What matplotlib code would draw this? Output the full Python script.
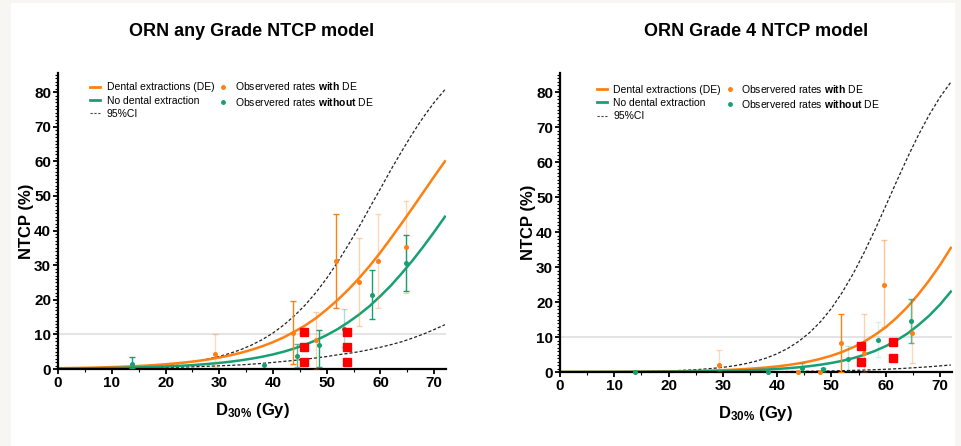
import numpy as np
import matplotlib
matplotlib.use("Agg")
import matplotlib.pyplot as plt
from matplotlib.ticker import MultipleLocator
from matplotlib.lines import Line2D
from matplotlib.patches import Rectangle

plt.rcParams['font.family'] = ['Liberation Sans', 'DejaVu Sans']
plt.rcParams['mathtext.fontset'] = 'custom'
plt.rcParams['mathtext.rm'] = 'Liberation Sans'
plt.rcParams['mathtext.it'] = 'Liberation Sans:italic'
plt.rcParams['mathtext.bf'] = 'Liberation Sans:bold'

ORANGE = '#ff8012'
GREEN = '#17a074'

# model curves, read every 2 Gy
dose = list(range(0, 73, 2))

any_de = [0.23, 0.28, 0.33, 0.39, 0.47, 0.56, 0.67, 0.80, 0.96, 1.15, 1.37,
          1.64, 1.96, 2.33, 2.78, 3.31, 3.94, 4.68, 5.55, 6.57, 7.76, 9.15,
          10.8, 12.6, 14.7, 17.2, 19.9, 22.9, 26.2, 29.8, 33.7, 37.9, 42.2,
          46.6, 51.1, 55.6, 60.0]
any_node = [0.12, 0.14, 0.17, 0.21, 0.25, 0.30, 0.35, 0.42, 0.51, 0.61, 0.72,
            0.87, 1.03, 1.24, 1.48, 1.76, 2.10, 2.51, 2.99, 3.55, 4.22, 5.01,
            5.95, 7.04, 8.31, 9.79, 11.5, 13.5, 15.7, 18.2, 21.1, 24.2, 27.7,
            31.4, 35.4, 39.6, 44.0]
any_ci_hi = [0.13, 0.16, 0.21, 0.26, 0.32, 0.40, 0.50, 0.63, 0.78, 0.98, 1.22,
             1.52, 1.90, 2.36, 2.94, 3.65, 4.53, 5.60, 6.91, 8.49, 10.4, 12.7,
             15.4, 18.5, 22.1, 26.2, 30.8, 35.8, 41.0, 46.6, 52.1, 57.7, 63.0,
             68.1, 72.8, 77.0, 80.7]
any_ci_lo = [0.09, 0.10, 0.12, 0.14, 0.17, 0.20, 0.24, 0.28, 0.33, 0.39, 0.45,
             0.52, 0.60, 0.70, 0.80, 0.92, 1.05, 1.20, 1.40, 1.63, 1.90, 2.20,
             2.50, 2.83, 3.20, 3.60, 4.10, 4.50, 5.00, 5.60, 6.30, 7.05, 7.90,
             8.95, 10.1, 11.4, 12.8]

g4_de = [0.02, 0.025, 0.03, 0.04, 0.05, 0.06, 0.075, 0.09, 0.12, 0.15, 0.18,
         0.22, 0.28, 0.35, 0.43, 0.54, 0.67, 0.84, 1.04, 1.29, 1.60, 1.99,
         2.47, 3.05, 3.78, 4.67, 5.75, 7.06, 8.65, 10.6, 12.8, 15.5, 18.6,
         22.2, 26.2, 30.6, 35.5]
g4_node = [0.01, 0.01, 0.02, 0.02, 0.03, 0.03, 0.04, 0.05, 0.06, 0.08, 0.10,
           0.12, 0.15, 0.19, 0.24, 0.29, 0.37, 0.46, 0.57, 0.70, 0.88, 1.09,
           1.35, 1.68, 2.09, 2.59, 3.20, 3.96, 4.89, 6.02, 7.39, 9.04, 11.0,
           13.4, 16.1, 19.3, 23.0]
g4_ci_hi = [0.02, 0.03, 0.04, 0.05, 0.06, 0.08, 0.11, 0.14, 0.19, 0.25, 0.33,
            0.44, 0.58, 0.77, 1.02, 1.34, 1.76, 2.32, 3.05, 3.99, 5.22, 6.79,
            8.79, 11.3, 14.4, 18.2, 22.8, 28.1, 34.1, 40.6, 47.5, 54.5, 61.3,
            67.7, 73.5, 78.6, 82.9]
g4_ci_lo = [0.0, 0.0, 0.0, 0.0, 0.0, 0.0, 0.0, 0.0, 0.0, 0.0, 0.0,
            0.0, 0.0, 0.01, 0.02, 0.03, 0.04, 0.05, 0.07, 0.09, 0.11, 0.14,
            0.17, 0.21, 0.26, 0.31, 0.38, 0.46, 0.55, 0.66, 0.78, 0.93, 1.10,
            1.30, 1.50, 1.75, 2.00]

# observed rates (x, rate, lower, upper)
any_obs_de_x = [29.3, 43.7, 48.0, 51.8, 56.0, 59.6, 64.7]
any_obs_de_y = [4.2, 10.4, 8.3, 31.2, 25.2, 31.2, 35.2]
any_obs_de_lo = [0.6, 1.5, 0.0, 17.7, 12.5, 17.7, 22.0]
any_obs_de_hi = [10.2, 19.6, 16.5, 44.8, 37.8, 44.8, 48.5]

any_obs_no_x = [13.8, 38.4, 44.5, 48.5, 53.2, 58.5, 64.7]
any_obs_no_y = [1.5, 1.3, 3.8, 6.9, 11.6, 21.3, 30.6]
any_obs_no_lo = [0.3, 1.3, 0.7, 0.7, 6.5, 14.5, 22.5]
any_obs_no_hi = [3.6, 1.3, 7.2, 11.4, 17.2, 28.6, 38.6]

g4_obs_de_x = [29.3, 43.8, 47.9, 51.7, 56.0, 59.6, 64.8]
g4_obs_de_y = [2.1, 0.0, 0.0, 8.4, 5.5, 25.0, 11.2]
g4_obs_de_lo = [0.3, 0.0, 0.0, 0.0, 0.0, 12.8, 2.5]
g4_obs_de_hi = [6.4, 0.0, 0.0, 16.5, 16.5, 37.8, 20.5]

g4_obs_no_x = [13.8, 38.4, 44.5, 48.4, 53.0, 58.5, 64.7]
g4_obs_no_y = [0.0, 0.0, 1.1, 0.8, 3.8, 9.2, 14.6]
g4_obs_no_lo = [0.0, 0.0, 0.0, 0.0, 0.3, 4.3, 8.3]
g4_obs_no_hi = [0.0, 0.0, 2.5, 1.2, 7.3, 14.3, 20.8]

# red square markers
any_sq_x = [45.8, 45.8, 45.8, 53.8, 53.8, 53.8]
any_sq_y = [1.9, 6.5, 10.8, 1.9, 6.5, 10.8]
g4_sq_x = [55.4, 55.4, 61.3, 61.3]
g4_sq_y = [7.4, 2.8, 8.5, 4.0]

# error bar opacity per point (style only)
any_de_alpha = [0.3, 1.0, 0.35, 1.0, 0.35, 0.3, 0.3]
any_no_alpha = [1.0, 0.0, 0.7, 1.0, 0.35, 1.0, 1.0]
g4_de_alpha = [0.3, 0.0, 0.0, 1.0, 0.35, 0.45, 0.3]
g4_no_alpha = [0.0, 0.0, 0.5, 0.5, 0.25, 0.15, 0.7]


def obs(ax, xs, ys, lo, hi, alphas, color):
    for x, y, l, h, a in zip(xs, ys, lo, hi, alphas):
        if a > 0:
            ax.errorbar([x], [y], yerr=[[y - l], [h - y]], fmt='none',
                        ecolor=color, elinewidth=1.0, capsize=2.2,
                        capthick=1.0, alpha=a, zorder=3)
    ax.plot(xs, ys, 'o', color=color, ms=2.6, zorder=4, clip_on=False)


def panel(ax, title, de, node, ci_hi, ci_lo, ode, ono, sqx, sqy, alph, leg_xy):
    ax.axhline(10, color='#e4e4e4', lw=1.4, zorder=0)
    ax.plot(dose, ci_hi, ls=(0, (2.5, 1.6)), color='#222222', lw=0.9, zorder=2)
    ax.plot(dose, ci_lo, ls=(0, (2.5, 1.6)), color='#222222', lw=0.9, zorder=2)
    ax.plot(dose, de, color=ORANGE, lw=1.8, zorder=2.5)
    ax.plot(dose, node, color=GREEN, lw=1.8, zorder=2.5)
    obs(ax, *ode, alph[0], ORANGE)
    obs(ax, *ono, alph[1], GREEN)
    ax.plot(sqx, sqy, 's', color='#ff0000', ms=6.0, zorder=6)

    ax.set_xlim(0, 72.2)
    ax.set_ylim(0, 85.5)
    ax.xaxis.set_major_locator(MultipleLocator(10))
    ax.xaxis.set_minor_locator(MultipleLocator(5))
    ax.yaxis.set_major_locator(MultipleLocator(10))
    ax.yaxis.set_minor_locator(MultipleLocator(1))
    for s in ['top', 'right']:
        ax.spines[s].set_visible(False)
    for s in ['left', 'bottom']:
        ax.spines[s].set_linewidth(1.6)
    ax.tick_params(which='major', length=3.5, width=1.3, labelsize=11, pad=1.5)
    ax.tick_params(which='minor', length=2, width=0.8)
    for lab in ax.get_xticklabels() + ax.get_yticklabels():
        lab.set_fontweight('bold')
    ax.set_title(title, fontsize=13, fontweight='bold', pad=27)
    ax.set_ylabel('NTCP (%)', fontsize=12, fontweight='bold', labelpad=0)
    ax.set_xlabel(r'D$_{\mathbf{30\%}}$ (Gy)', fontsize=12, fontweight='bold', labelpad=8)

    handles = [
        Line2D([], [], color=ORANGE, lw=2),
        Line2D([], [], color=GREEN, lw=2),
        Line2D([], [], color='#444444', lw=0.8, ls=(0, (2, 1.5))),
        Line2D([], [], color=ORANGE, marker='o', ms=2.5, ls='none'),
        Line2D([], [], color=GREEN, marker='o', ms=2.5, ls='none'),
    ]
    labels = ['Dental extractions (DE)', 'No dental extraction', '95%CI',
              r'Observered rates $\mathbf{with}$ DE',
              r'Observered rates $\mathbf{without}$ DE']
    ax.legend(handles, labels, ncol=2, loc='upper left', bbox_to_anchor=leg_xy,
              frameon=False, fontsize=7.5, handlelength=1.0, handletextpad=0.6,
              columnspacing=0.35, labelspacing=0.32, borderpad=0, borderaxespad=0)


fig = plt.figure(figsize=(9.61, 4.46), dpi=100, facecolor='#f7f6f2')
fig.patches.append(Rectangle((11 / 961, 0), 944 / 961, 443 / 446,
                             transform=fig.transFigure, facecolor='white',
                             edgecolor='none', zorder=-1))

ax1 = fig.add_axes([0.0604, 0.1726, 0.4037, 0.6637])
ax2 = fig.add_axes([0.5827, 0.1659, 0.4079, 0.6704])

panel(ax1, 'ORN any Grade NTCP model', any_de, any_node, any_ci_hi, any_ci_lo,
      (any_obs_de_x, any_obs_de_y, any_obs_de_lo, any_obs_de_hi),
      (any_obs_no_x, any_obs_no_y, any_obs_no_lo, any_obs_no_hi),
      any_sq_x, any_sq_y, (any_de_alpha, any_no_alpha), (0.0825, 0.975))
panel(ax2, 'ORN Grade 4 NTCP model', g4_de, g4_node, g4_ci_hi, g4_ci_lo,
      (g4_obs_de_x, g4_obs_de_y, g4_obs_de_lo, g4_obs_de_hi),
      (g4_obs_no_x, g4_obs_no_y, g4_obs_no_lo, g4_obs_no_hi),
      g4_sq_x, g4_sq_y, (g4_de_alpha, g4_no_alpha), (0.094, 0.968))

fig.savefig('out.png', dpi=100, facecolor=fig.get_facecolor())
